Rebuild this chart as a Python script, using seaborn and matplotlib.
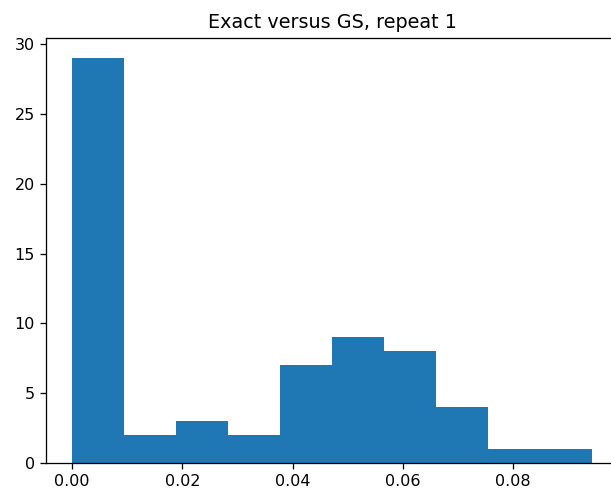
import matplotlib
matplotlib.use("Agg")
import matplotlib.pyplot as plt
import numpy as np
import pandas as pd
import seaborn as sns

# Histogram: 10 equal bins between x_min and x_max
x_min = 0.0
x_max = 0.0943
counts = [29, 2, 3, 2, 7, 9, 8, 4, 1, 1]
title = "Exact versus GS, repeat 1"

DPI = 115


def main():
    edges = np.linspace(x_min, x_max, len(counts) + 1)
    centers = (edges[:-1] + edges[1:]) / 2
    df = pd.DataFrame({"value": centers, "count": counts})

    fig = plt.figure(figsize=(611 / DPI, 496 / DPI), dpi=DPI)
    # axes runs past the right edge, as in the cropped original
    ax = fig.add_axes([46 / 611, 33 / 496, 572 / 611, 425 / 496])
    sns.histplot(data=df, x="value", weights="count", bins=len(counts),
                 binrange=(x_min, x_max), ax=ax,
                 color="#1f77b4", alpha=1, linewidth=0)
    ax.set_xlim(x_min - 0.05 * (x_max - x_min), x_max + 0.05 * (x_max - x_min))
    ax.set_ylim(0, max(counts) * 1.05)
    ax.set_xticks([0.0, 0.02, 0.04, 0.06, 0.08])
    ax.set_yticks([0, 5, 10, 15, 20, 25, 30])
    ax.set_ylabel("")
    ax.set_xlabel("")
    ax.set_title(title, fontsize=12)
    fig.savefig("out.png", dpi=DPI)
    plt.close()


if __name__ == "__main__":
    main()
